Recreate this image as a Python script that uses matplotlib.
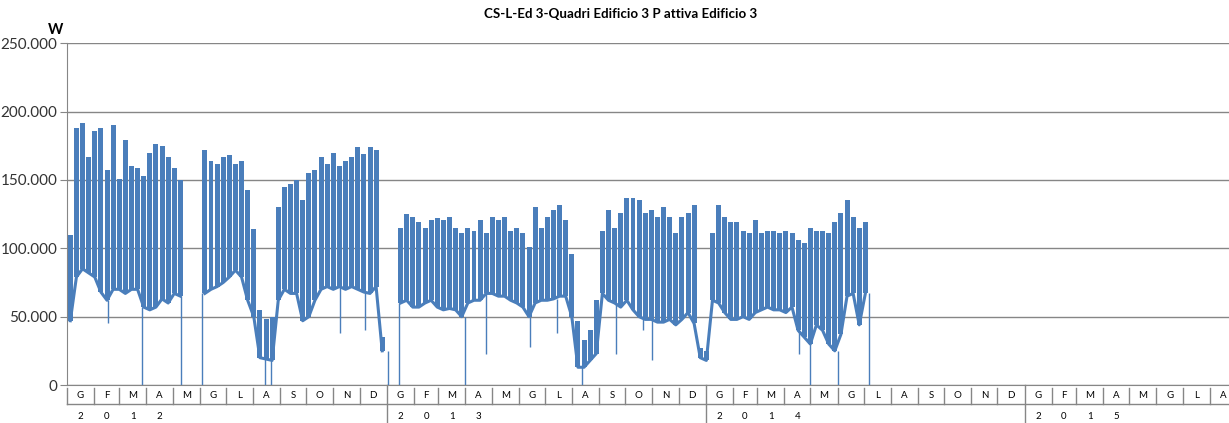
import numpy as np
import matplotlib
matplotlib.use("Agg")
import matplotlib.pyplot as plt
import matplotlib.dates as mdates
import matplotlib.transforms as mtransforms

plt.rcParams['font.family'] = ['Lato', 'DejaVu Sans']

# settimane a partire da lunedi 2 gennaio 2012
inizio = np.datetime64('2012-01-02')

# picco dei giorni feriali e valore di base di ogni settimana (kW), None = nessun dato
picchi = [110, 188, 192, 167, 186, 188, 157, 190, 151, 179, 160, 159, 153, 170, 176, 175, 167, 159, 150,
          None, None, None,
          172, 164, 162, 167, 168, 162, 164, 143, 114, 55, 48, 50, 130, 145, 147, 150, 135, 155,
          157, 167, 162, 170, 160, 164, 167, 174, 169, 174, 172, 35,
          None, None,
          115, 125, 123, 119, 115, 121, 122, 121, 123, 115, 111, 115, 113, 121, 111, 123, 121, 123,
          113, 115, 111, 101, 130, 115, 123, 128, 132, 121, 96, 47, 33, 40, 62, 113, 128, 115, 126,
          137, 137, 135, 126, 128, 123, 130, 123, 111, 123, 126, 132, 27, 25,
          111, 132, 123, 119, 119, 113, 111, 121, 111, 113, 113, 111, 113, 111, 106, 104, 115, 113,
          113, 111, 119, 126, 135, 123, 115, 119]
basi = [47, 79, 85, 82, 79, 68, 62, 70, 70, 67, 70, 70, 57, 55, 57, 63, 60, 67, 65,
        None, None, None,
        67, 70, 72, 75, 79, 84, 79, 62, 50, 20, 19, 18, 62, 70, 67, 67, 47, 50,
        62, 70, 72, 70, 72, 70, 72, 70, 68, 67, 72, 25,
        None, None,
        60, 62, 57, 57, 60, 62, 57, 55, 56, 55, 50, 60, 62, 62, 67, 67, 65, 65,
        62, 60, 57, 50, 60, 62, 62, 63, 65, 65, 50, 13, 13, 18, 23, 67, 62, 60, 57,
        62, 55, 50, 48, 48, 46, 46, 48, 44, 48, 53, 45, 20, 18,
        62, 60, 53, 48, 48, 50, 48, 53, 55, 57, 55, 55, 53, 57, 40, 35, 30, 44,
        40, 30, 25, 37, 65, 67, 44, 67]

# cali isolati (festivi, interruzioni) in kW
cali_date = ['2012-02-17', '2012-03-27', '2012-05-11', '2012-06-04', '2012-08-15', '2012-08-21',
             '2012-11-08', '2012-12-07', '2013-01-02', '2013-01-15', '2013-04-01', '2013-04-25',
             '2013-06-14', '2013-07-15', '2013-08-13', '2013-09-20', '2013-10-21', '2013-11-01',
             '2014-04-18', '2014-05-01', '2014-06-02', '2014-07-07']
cali_val = [45, 0, 0, 0, 0, 0, 38, 40, 0, 0, 0, 23, 28, 38, 0, 23, 40, 18, 23, 0, 0, 0]

mesi = ['G', 'F', 'M', 'A', 'M', 'G', 'L', 'A', 'S', 'O', 'N', 'D']
anni = [2012, 2013, 2014, 2015]
y_ticks = [0, 50000, 100000, 150000, 200000, 250000]
y_labels = ['0', '50.000', '100.000', '150.000', '200.000', '250.000']

blu = '#4a7ebb'
grigio = '#868686'

fig = plt.figure(figsize=(12.29, 4.23), dpi=100)
ax = fig.add_axes([0.0545, 0.0898, 0.9455, 0.808])

x0 = mdates.date2num(inizio)
sett = x0 + 7 * np.arange(len(picchi))
p = np.array([np.nan if v is None else v for v in picchi]) * 1000
b = np.array([np.nan if v is None else v for v in basi]) * 1000
ok = ~np.isnan(p)

ax.bar(sett[ok], (p - b)[ok], bottom=b[ok], width=5.7, align='edge', color=blu, lw=0, zorder=3)
ax.plot(sett + 2.8, b, color=blu, lw=2.2, zorder=3, solid_joinstyle='round')

# ogni calo scende dalla base della settimana con dati piu vicina
con_dati = np.where(ok)[0]
for d, v in zip(cali_date, cali_val):
    xd = mdates.date2num(np.datetime64(d))
    i = (xd - x0) / 7
    k = con_dati[np.argmin(np.abs(con_dati + 0.5 - i))]
    ax.vlines(xd, v * 1000, b[k], color=blu, lw=1.0, zorder=3)

xmin = mdates.date2num(np.datetime64('2012-01-01'))
xmax = mdates.date2num(np.datetime64('2015-08-23'))
ax.set_xlim(xmin, xmax)
ax.set_ylim(0, 250000)

ax.set_yticks(y_ticks)
ax.set_yticklabels(y_labels, fontsize=11, color='#333333')
ax.tick_params(axis='y', length=5, color=grigio, pad=2)
ax.set_xticks([])
ax.yaxis.grid(True, color=grigio, lw=1)
ax.set_axisbelow(True)
for s in ['top', 'right']:
    ax.spines[s].set_visible(False)
ax.spines['left'].set_color(grigio)
ax.spines['bottom'].set_color(grigio)

# etichette dei mesi e degli anni sotto l'asse
tr = mtransforms.blended_transform_factory(ax.transData, ax.transAxes)
for a in anni:
    for m in range(12):
        s = mdates.date2num(np.datetime64('%d-%02d-01' % (a, m + 1)))
        if m == 11:
            e = mdates.date2num(np.datetime64('%d-01-01' % (a + 1)))
        else:
            e = mdates.date2num(np.datetime64('%d-%02d-01' % (a, m + 2)))
        if s > xmax:
            continue
        c = (s + e) / 2
        ax.text(c, -0.032, mesi[m], transform=tr, ha='center', va='center', fontsize=7, clip_on=False)
        if m == 0 and a != 2012:
            ax.plot([s, s], [0, -0.115], transform=tr, color=grigio, lw=1, clip_on=False)
        else:
            ax.plot([s, s], [-0.008, -0.056], transform=tr, color=grigio, lw=1, clip_on=False)
        if m < 4:
            ax.text(c, -0.093, str(a)[m], transform=tr, ha='center', va='center', fontsize=7, clip_on=False)
ax.plot([0, 1], [-0.057, -0.057], transform=ax.transAxes, color=grigio, lw=1, clip_on=False)

fig.text(0.045, 0.93, 'W', fontsize=10.5, fontweight='bold', ha='center', va='center')
fig.text(0.505, 0.967, 'CS-L-Ed 3-Quadri Edificio 3 P attiva Edificio 3', fontsize=9.6,
         fontweight='bold', ha='center', va='center')

fig.savefig('out.png', dpi=100)
